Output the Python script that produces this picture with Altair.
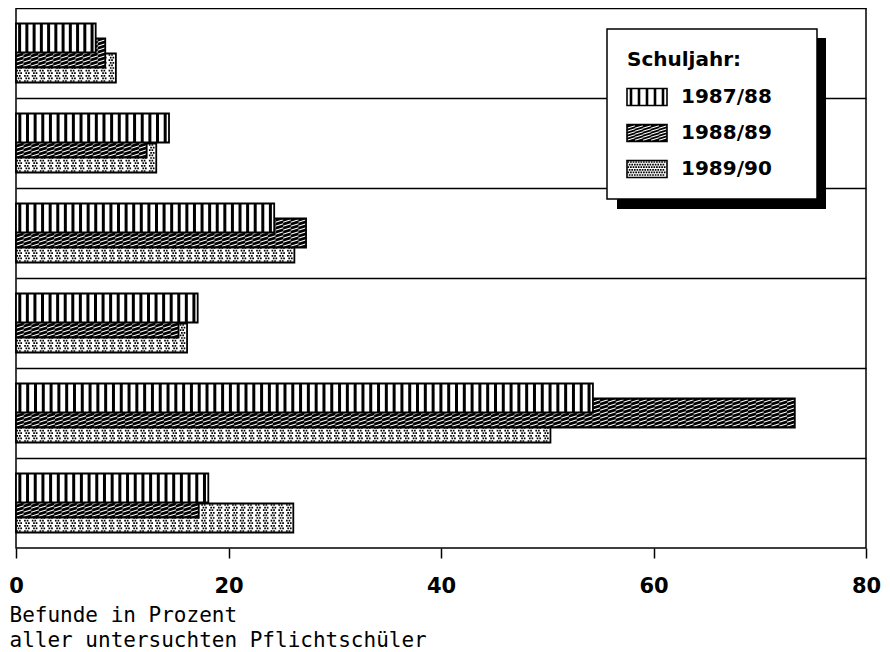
import altair as alt
import pandas as pd

# ---------------- data ----------------
CATEGORIES = ["Befund 1", "Befund 2", "Befund 3", "Befund 4", "Befund 5", "Befund 6"]
SERIES = ["1987/88", "1988/89", "1989/90"]
V_8788 = [7.5, 14.4, 24.3, 17.1, 54.3, 18.1]
V_8889 = [8.4, 12.3, 27.3, 15.3, 73.3, 17.2]
V_8990 = [9.4, 13.2, 26.2, 16.1, 50.3, 26.1]
X_TICKS = [0, 20, 40, 60, 80]
X_TITLE = ["Befunde in Prozent", "aller untersuchten Pflichtschüler"]
LEGEND_TITLE = "Schuljahr:"

# ---------------- layout / style ----------------
W, H = 850, 540
BAND = H / len(CATEGORIES)
BAR_H = 29
TILE_PX = 7.8
TILE_U = TILE_PX / (W / 80.0)
U = BAR_H / 2.0          # px per normalized unit of a bar tile symbol
TILE_SIZE = BAR_H * BAR_H

rows = []
for i, c in enumerate(CATEGORIES):
    for s, vals in zip(SERIES, [V_8788, V_8889, V_8990]):
        rows.append({"category": c, "series": s, "value": vals[i]})
df = pd.DataFrame(rows)


def r(v):
    return f"{v:.4f}"


def stripe_path(unit, xs, half_h, sw):
    p = ""
    for x in xs:
        p += f"M{r((x - sw / 2) / unit)},{r(-half_h / unit)}H{r((x + sw / 2) / unit)}V{r(half_h / unit)}H{r((x - sw / 2) / unit)}Z"
    return p


def hatch_path(unit, x0s, tw, ys, rise):
    p = ""
    for x0 in x0s:
        for y in ys:
            p += f"M{r(x0 / unit)},{r((y + rise) / unit)}L{r((x0 + tw) / unit)},{r((y - rise) / unit)}"
    return p


def dot_path(unit, x_min, x_max, y_min, y_max, step, d):
    p = ""
    ry = 0
    y = y_min
    while y <= y_max + 1e-6:
        off = 0 if ry % 2 == 0 else step / 2
        x = x_min + off
        while x <= x_max + 1e-6:
            p += f"M{r((x - d / 2) / unit)},{r((y - d / 2) / unit)}H{r((x + d / 2) / unit)}V{r((y + d / 2) / unit)}H{r((x - d / 2) / unit)}Z"
            x += step
        y += step
        ry += 1
    return p


STRIPE_TILE = stripe_path(U, [0.0], U, 3.0)
HATCH_TILE = hatch_path(U, [-TILE_PX / 2], TILE_PX, [-12, -8, -4, 0, 4, 8, 12], 1.2)
DOT_TILE = dot_path(U, -2.6, 1.3, -13.0, 13.0, 2.6, 1.7)

# ---------------- encodings ----------------
x_axis = alt.Axis(values=X_TICKS, title=X_TITLE, grid=False, domain=False, labelFlush=False)
x_scale = alt.Scale(domain=[0, 80], nice=False)


def xenc(field):
    return alt.X(f"{field}:Q", scale=x_scale, axis=x_axis, stack=None)


y_enc = alt.Y(
    "category:N",
    sort=CATEGORIES,
    scale=alt.Scale(domain=CATEGORIES, paddingInner=0, paddingOuter=0),
    axis=alt.Axis(labels=False, ticks=False, domain=False, grid=True,
                  gridColor="black", gridWidth=1.5, bandPosition=0, title=None),
)
yoff_enc = alt.YOffset(
    "series:N", sort=SERIES,
    scale=alt.Scale(domain=SERIES, paddingInner=0, paddingOuter=0,
                    range=[BAND / 2 - 22.5, BAND / 2 + 22.5]),
)

base = alt.Chart(df)


def series_layers(series, bg, tile_path, tile_filled, tile_color, tile_sw):
    sel = base.transform_filter(alt.datum.series == series)
    fill_bar = sel.mark_bar(size=BAR_H, fill=bg, strokeWidth=0).encode(
        x=xenc("value"), y=y_enc, yOffset=yoff_enc)
    tiles_src = sel.transform_calculate(
        n=f"ceil(datum.value / {TILE_U})",
        k=f"sequence(0, ceil(datum.value / {TILE_U}))",
    ).transform_flatten(["k"]).transform_calculate(
        s="(datum.k + 0.5) * datum.value / datum.n"
    )
    if tile_filled:
        tiles = tiles_src.mark_point(shape=tile_path, size=TILE_SIZE, filled=True,
                                     fill=tile_color, strokeWidth=0, opacity=1)
    else:
        tiles = tiles_src.mark_point(shape=tile_path, size=TILE_SIZE, filled=False,
                                     stroke=tile_color, strokeWidth=tile_sw, opacity=1)
    tiles = tiles.encode(x=xenc("s"), y=y_enc, yOffset=yoff_enc)
    outline = sel.mark_bar(size=BAR_H, fill="transparent", stroke="black",
                           strokeWidth=1.8).encode(x=xenc("value"), y=y_enc, yOffset=yoff_enc)
    return [fill_bar, tiles, outline]


layers = []
layers += series_layers(SERIES[2], "white", DOT_TILE, True, "black", 0)
layers += series_layers(SERIES[1], "black", HATCH_TILE, False, "white", 1.1)
layers += series_layers(SERIES[0], "white", STRIPE_TILE, True, "black", 0)

# ---------------- legend (drawn inside plot) ----------------
BOX_L, BOX_R, BOX_T, BOX_B = W - 259, W - 49, 21, 191
ROWS_Y = [89, 125, 161]
SW_L, SW_R, SW_H = BOX_L + 20, BOX_L + 60, 17
LAB_X = BOX_L + 74
one = alt.Chart(pd.DataFrame({"label": [LEGEND_TITLE]}))

layers.append(one.mark_rect(fill="black").encode(
    x=alt.value(BOX_L + 10), x2=alt.value(BOX_R + 9),
    y=alt.value(BOX_T + 9), y2=alt.value(BOX_B + 10)))
layers.append(one.mark_rect(fill="white", stroke="black", strokeWidth=1.5).encode(
    x=alt.value(BOX_L), x2=alt.value(BOX_R), y=alt.value(BOX_T), y2=alt.value(BOX_B)))
layers.append(one.mark_text(align="left", baseline="middle", font="DejaVu Sans",
                            fontSize=20, fontWeight="bold", color="black").encode(
    x=alt.value(BOX_L + 20), y=alt.value(52), text="label:N"))

SU = 20.0
SW_SIZE = (2 * SU) ** 2
sw_half_h = SW_H / 2
swatches = [
    ("white", stripe_path(SU, [-16, -8, 0, 8, 16], sw_half_h, 2.6), True, "black", 0),
    ("black", hatch_path(SU, [-20, -12, -4, 4, 12], 8, [-6, -3, 0, 3, 6], 1.2), False, "white", 1.1),
    ("white", dot_path(SU, -18.7, 18.7, -7.0, 7.0, 2.6, 1.7), True, "black", 0),
]
cx = (SW_L + SW_R) / 2
for lab, ry, (bg, path, filled, col, sw) in zip(SERIES, ROWS_Y, swatches):
    layers.append(one.mark_rect(fill=bg, strokeWidth=0).encode(
        x=alt.value(SW_L), x2=alt.value(SW_R),
        y=alt.value(ry - sw_half_h), y2=alt.value(ry + sw_half_h)))
    if filled:
        pm = one.mark_point(shape=path, size=SW_SIZE, filled=True, fill=col,
                            strokeWidth=0, opacity=1)
    else:
        pm = one.mark_point(shape=path, size=SW_SIZE, filled=False, stroke=col,
                            strokeWidth=sw, opacity=1)
    layers.append(pm.encode(x=alt.value(cx), y=alt.value(ry)))
    layers.append(one.mark_rect(fill="transparent", stroke="black", strokeWidth=1.6).encode(
        x=alt.value(SW_L), x2=alt.value(SW_R),
        y=alt.value(ry - sw_half_h), y2=alt.value(ry + sw_half_h)))
    layers.append(one.mark_text(align="left", baseline="middle", font="DejaVu Sans",
                                fontSize=20, fontWeight="bold", color="black").encode(
        x=alt.value(LAB_X), y=alt.value(ry), text=alt.value(lab)))

chart = alt.layer(*layers).properties(
    width=W, height=H, background="white", padding={"left": 0, "right": 0, "top": 0, "bottom": 0}
).configure_view(
    stroke="black", strokeWidth=1.5
).configure_axisX(
    labelFont="DejaVu Sans", labelFontWeight="bold", labelFontSize=21, labelColor="black",
    tickColor="black", tickSize=10, tickWidth=1.5, labelPadding=17,
    titleFont="DejaVu Sans Mono", titleFontSize=21, titleFontWeight="normal",
    titleColor="black", titleAnchor="start", titleAlign="left", titleX=-7, titleY=56,
    titleBaseline="top", titleLineHeight=25,
)

chart.save("out.html", embed_options={"renderer": "svg", "actions": False})
